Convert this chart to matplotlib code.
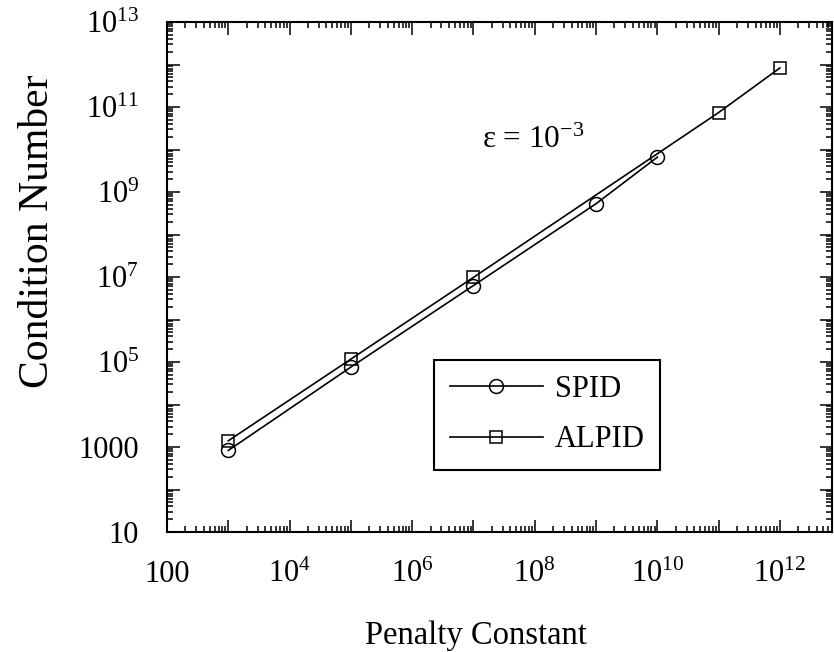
import numpy as np
import matplotlib
matplotlib.use("Agg")
import matplotlib.pyplot as plt
from matplotlib.ticker import FixedLocator, FuncFormatter, LogLocator, NullFormatter

plt.rcParams['font.family'] = ['Liberation Serif', 'DejaVu Serif']
plt.rcParams['mathtext.fontset'] = 'custom'
plt.rcParams['mathtext.rm'] = 'Liberation Serif'
plt.rcParams['mathtext.it'] = 'Liberation Serif:italic'
plt.rcParams['mathtext.bf'] = 'Liberation Serif:bold'

# data
spid_x = [1e3, 1e5, 1e7, 1e9, 1e10]
spid_y = [830, 7.6e4, 6.3e6, 5.3e8, 6.6e9]
alpid_x = [1e3, 1e5, 1e7, 1e11, 1e12]
alpid_y = [1.4e3, 1.17e5, 9.8e6, 7.4e10, 8.3e11]
x_label_exps = [2, 4, 6, 8, 10, 12]
y_label_exps = [1, 3, 5, 7, 9, 11, 13]

fig = plt.figure(figsize=(8.34, 6.52), dpi=100)
ax = fig.add_axes([167/834, 120/652, 665/834, 510/652])

ax.plot(spid_x, spid_y, color='black', lw=1.2, marker='o', ms=10,
        mfc='none', mec='black', mew=1.1, label='SPID')
ax.plot(alpid_x, alpid_y, color='black', lw=1.2, marker='s', ms=8,
        mfc='none', mec='black', mew=1.1, label='ALPID')

ax.set_xscale('log')
ax.set_yscale('log')
ax.set_xlim(100, 10**12.85)
ax.set_ylim(10, 1e13)

def xfmt(v, pos):
    e = int(round(np.log10(v)))
    if e not in x_label_exps:
        return ''
    if e == 2:
        return '100'
    return r'$10^{%d}$' % e

def yfmt(v, pos):
    e = int(round(np.log10(v)))
    if e not in y_label_exps:
        return ''
    if e == 1:
        return '10'
    if e == 3:
        return '1000'
    return r'$10^{%d}$' % e

ax.xaxis.set_major_locator(FixedLocator([10.0**e for e in range(2, 13)]))
ax.yaxis.set_major_locator(FixedLocator([10.0**e for e in range(1, 14)]))
ax.xaxis.set_minor_locator(LogLocator(base=10, subs=np.arange(2, 10), numticks=50))
ax.yaxis.set_minor_locator(LogLocator(base=10, subs=np.arange(2, 10), numticks=50))
ax.xaxis.set_major_formatter(FuncFormatter(xfmt))
ax.yaxis.set_major_formatter(FuncFormatter(yfmt))
ax.xaxis.set_minor_formatter(NullFormatter())
ax.yaxis.set_minor_formatter(NullFormatter())

ax.tick_params(which='both', direction='in', top=True, right=True, width=1.1,
               labelsize=22, colors='black')
ax.tick_params(which='major', length=9)
ax.tick_params(which='minor', length=4.5)
ax.tick_params(axis='x', which='major', pad=20)
ax.tick_params(axis='y', which='major', pad=20)
for s in ax.spines.values():
    s.set_linewidth(1.5)

ax.set_xlabel('Penalty Constant', fontsize=23.5)
ax.set_ylabel('Condition Number', fontsize=30)
ax.xaxis.set_label_coords(0.465, -0.173)
ax.yaxis.set_label_coords(-0.165, 0.59)

ax.text(0.474, 0.753, 'ε = $10^{-3}$', transform=ax.transAxes,
        fontsize=22.5, va='baseline', ha='left')

leg = ax.legend(loc='center', bbox_to_anchor=(0.572, 0.23), fontsize=22,
                handlelength=3.05, handletextpad=0.4, borderpad=0.5,
                labelspacing=0.7, fancybox=False, framealpha=1,
                edgecolor='black', borderaxespad=0)
leg.get_frame().set_linewidth(1.5)

fig.savefig('out.png', dpi=100)
